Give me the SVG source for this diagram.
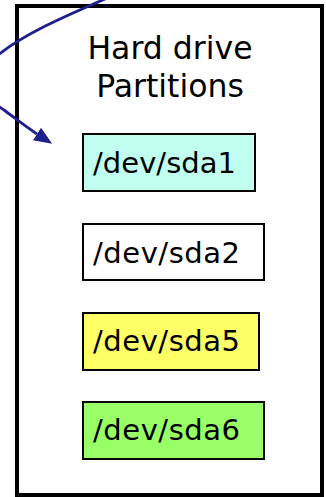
<svg xmlns="http://www.w3.org/2000/svg" width="326" height="497" viewBox="0 0 326 497">
<style>
.box{stroke:#000;stroke-width:2}
.lbl{font-family:"DejaVu Sans",Verdana,sans-serif;font-size:29px;fill:#000}
.title{font-family:"DejaVu Sans",Verdana,sans-serif;font-size:31.5px;fill:#000;text-anchor:middle}
.conn{fill:none;stroke:#1f1f8c;stroke-width:2.8}
</style>
<defs>
<marker id="arr" markerUnits="userSpaceOnUse" markerWidth="18" markerHeight="16" refX="0" refY="7.5" orient="auto" viewBox="0 0 18 15">
<path d="M0,0 L18,7.5 L0,15 Z" fill="#1f1f8c"/>
</marker>
</defs>
<rect width="326" height="497" fill="#fff"/>
<g id="drive">
<rect x="17" y="6" width="305" height="489" fill="none" stroke="#000" stroke-width="4"/>
<text class="title" x="170" y="59">Hard drive</text>
<text class="title" x="170" y="97">Partitions</text>
</g>
<g id="sda1">
<rect class="box" x="83" y="134" width="172" height="57" fill="#c0fff0"/>
<text class="lbl" x="93" y="173" textLength="143">/dev/sda1</text>
</g>
<g id="sda2">
<rect class="box" x="83" y="224" width="181" height="56" fill="#fff"/>
<text class="lbl" x="93" y="263" textLength="147">/dev/sda2</text>
</g>
<g id="sda5">
<rect class="box" x="83" y="313" width="176" height="57" fill="#ffff66"/>
<text class="lbl" x="93" y="351" textLength="147">/dev/sda5</text>
</g>
<g id="sda6">
<rect class="box" x="83" y="402" width="181" height="57" fill="#99ff66"/>
<text class="lbl" x="93" y="440" textLength="147">/dev/sda6</text>
</g>
<g id="connectors">
<path class="conn" d="M112,-4 C70,14 20,35 -8,60 C-25,78 -15,98 4,110 C15,118 26,127 37,134" marker-end="url(#arr)"/>
</g>
</svg>
